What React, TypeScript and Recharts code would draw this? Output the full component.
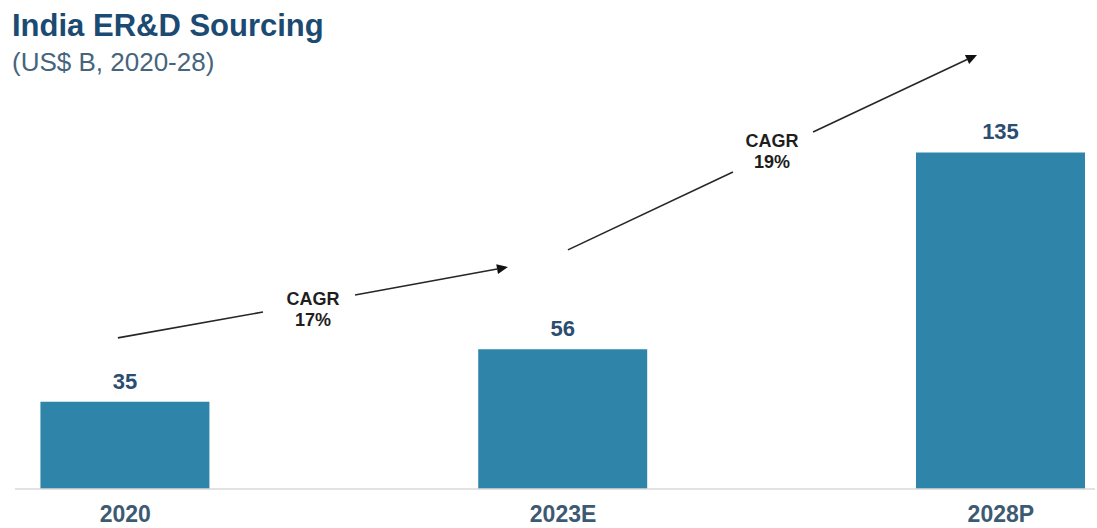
import React from 'react';
import { BarChart, Bar, XAxis, YAxis, LabelList, ReferenceLine, ReferenceDot } from 'recharts';

const categories = ['2020', '2023E', '2028P'];
const values = [35, 56, 135];

// CAGR annotations, in chart data units (x = category index, y = US$ B)
const cagrLabels = ['17%', '19%'];
const arrowStarts = [
  { x: -0.017, y: 60.6 },
  { x: 1.011, y: 95.9 },
];
const gapStarts = [
  { x: 0.3145, y: 71.0 },
  { x: 1.388, y: 127.1 },
];
const gapEnds = [
  { x: 0.5247, y: 77.8 },
  { x: 1.571, y: 143.2 },
];
const arrowTips = [
  { x: 0.874, y: 89.0 },
  { x: 1.9455, y: 174.1 },
];
const labelAnchors = [
  { x: 0.4287, y: 73.8 },
  { x: 1.477, y: 137.0 },
];

const data = categories.map((name, i) => ({ idx: i, name, value: values[i] }));

const FONT = '"Liberation Sans", Arial, sans-serif';

const PlainLine = (props: any) => (
  <line x1={props.x1} y1={props.y1} x2={props.x2} y2={props.y2} stroke="#262626" strokeWidth={1.6} />
);

const ArrowLine = (props: any) => {
  const { x1, y1, x2, y2 } = props;
  const dx = x2 - x1;
  const dy = y2 - y1;
  const len = Math.sqrt(dx * dx + dy * dy) || 1;
  const ux = dx / len;
  const uy = dy / len;
  const headLen = 11;
  const headW = 5;
  const bx = x2 - ux * headLen;
  const by = y2 - uy * headLen;
  const pts = `${x2},${y2} ${bx - uy * headW},${by + ux * headW} ${bx + uy * headW},${by - ux * headW}`;
  return (
    <g>
      <line x1={x1} y1={y1} x2={bx} y2={by} stroke="#262626" strokeWidth={1.6} />
      <polygon points={pts} fill="#111" />
    </g>
  );
};

const CagrText = (pct: string) => (props: any) => (
  <text x={props.cx} y={props.cy} textAnchor="middle" fontFamily={FONT} fontWeight="bold" fontSize={18} fill="#1e1e1e">
    <tspan x={props.cx} dy={0}>CAGR</tspan>
    <tspan x={props.cx} dy={21}>{pct}</tspan>
  </text>
);

const CategoryTick = (props: any) => {
  const { x, y, payload } = props;
  return (
    <text x={x} y={y + 25} textAnchor="middle" fontFamily={FONT} fontWeight="bold" fontSize={23} fill="#3d5a73">
      {categories[payload.value]}
    </text>
  );
};

const ValueLabel = (props: any) => {
  const { x, y, width, value } = props;
  return (
    <text x={x + width / 2} y={y - 13} textAnchor="middle" fontFamily={FONT} fontWeight="bold" fontSize={22} fill="#2a4d70">
      {value}
    </text>
  );
};

export default function App() {
  return (
    <div style={{ position: 'absolute', left: 0, top: 0, width: 1097, height: 528, background: '#fff', fontFamily: FONT }}>
      <div style={{ position: 'absolute', left: 12, top: 10, fontSize: 31, lineHeight: '31px', fontWeight: 'bold', color: '#1b4a72', whiteSpace: 'nowrap' }}>
        India ER&amp;D Sourcing
      </div>
      <div style={{ position: 'absolute', left: 12, top: 49, fontSize: 26, lineHeight: '26px', color: '#46657d', whiteSpace: 'nowrap' }}>
        (US$ B, 2020-28)
      </div>
      <BarChart width={1097} height={528} data={data} margin={{ top: 115, right: 2, left: 15, bottom: 0 }}>
        <XAxis
          type="number"
          dataKey="idx"
          domain={[-0.252, 2.215]}
          ticks={[0, 1, 2]}
          height={39}
          axisLine={{ stroke: '#d9d9d9', strokeWidth: 1.5 }}
          tickLine={false}
          tick={<CategoryTick />}
          interval={0}
        />
        <YAxis hide domain={[0, 150]} />
        <Bar dataKey="value" fill="#2e85a9" barSize={169} isAnimationActive={false}>
          <LabelList dataKey="value" content={<ValueLabel />} />
        </Bar>
        {cagrLabels.map((pct, i) => (
          <ReferenceLine
            key={`a${i}`}
            segment={[arrowStarts[i], gapStarts[i]]}
            ifOverflow="visible"
            shape={PlainLine}
          />
        ))}
        {cagrLabels.map((pct, i) => (
          <ReferenceLine
            key={`b${i}`}
            segment={[gapEnds[i], arrowTips[i]]}
            ifOverflow="visible"
            shape={ArrowLine}
          />
        ))}
        {cagrLabels.map((pct, i) => (
          <ReferenceDot
            key={`t${i}`}
            x={labelAnchors[i].x}
            y={labelAnchors[i].y}
            r={0}
            ifOverflow="visible"
            shape={CagrText(pct)}
          />
        ))}
      </BarChart>
    </div>
  );
}
